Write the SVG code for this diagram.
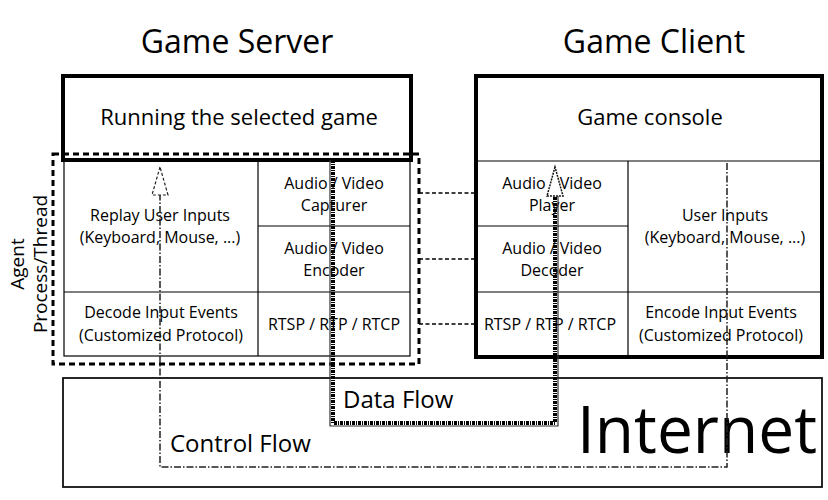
<svg xmlns="http://www.w3.org/2000/svg" width="828" height="500" viewBox="0 0 828 500">
<style>
text{font-family:"Open Sans","Noto Sans","DejaVu Sans",sans-serif;fill:#000;}
.title{font-size:32px;text-anchor:middle;}
.big{font-size:22px;text-anchor:middle;}
.cell{font-size:16px;text-anchor:middle;}
.thick{fill:none;stroke:#000;stroke-width:4;}
.thin{fill:none;stroke:#000;stroke-width:1.2;}
.agent{fill:none;stroke:#000;stroke-width:3;stroke-dasharray:6 4;}
.conn{fill:none;stroke:#000;stroke-width:1.6;stroke-dasharray:4 2.5;}
.data{fill:none;stroke:#000;stroke-width:4;stroke-dasharray:3 1 1 1;}
.data2{fill:none;stroke:#333;stroke-width:1.2;}
.ctrl{fill:none;stroke:#222;stroke-width:1.5;stroke-dasharray:7 2 1.5 2;}
.head{fill:#fff;stroke:#222;stroke-width:1.2;stroke-dasharray:3 2;}
</style>
<rect x="0" y="0" width="828" height="500" fill="#fff"/>

<g id="internet">
<rect x="63" y="378" width="759" height="109" fill="#fff" stroke="#111" stroke-width="1.8"/>
<text x="817" y="453" font-size="66" text-anchor="end" textLength="240" lengthAdjust="spacingAndGlyphs">Internet</text>
</g>

<g id="server">
<text class="title" x="237" y="53">Game Server</text>
<rect class="thick" x="63" y="76" width="348" height="84"/>
<text class="big" x="239" y="125">Running the selected game</text>
</g>

<g id="server-table">
<rect class="thin" x="64" y="160" width="346" height="196" fill="#fff"/>
<line class="thin" x1="258" y1="160" x2="258" y2="356"/>
<line class="thin" x1="258" y1="226" x2="410" y2="226"/>
<line class="thin" x1="64" y1="292" x2="410" y2="292"/>
<g id="replay"><text class="cell" x="160" y="221">Replay User Inputs</text><text class="cell" x="160" y="243">(Keyboard, Mouse, ...)</text></g>
<g id="capturer"><text class="cell" x="334" y="189">Audio / Video</text><text class="cell" x="334" y="211">Capturer</text></g>
<g id="encoder"><text class="cell" x="334" y="254">Audio / Video</text><text class="cell" x="334" y="276">Encoder</text></g>
<g id="decode-input"><text class="cell" x="161" y="318">Decode Input Events</text><text class="cell" x="161" y="341">(Customized Protocol)</text></g>
<g id="server-rtsp"><text class="cell" x="334" y="330">RTSP / RTP / RTCP</text></g>
</g>

<g id="agent">
<rect class="agent" x="53" y="154" width="366" height="210"/>
<text font-size="19" text-anchor="middle" transform="translate(24,264) rotate(-90)">Agent</text>
<text font-size="19" text-anchor="middle" transform="translate(47,264) rotate(-90)">Process/Thread</text>
</g>

<g id="client">
<text class="title" x="654" y="53">Game Client</text>
<rect class="thick" x="476" y="76" width="346" height="281" fill="#fff"/>
<text class="big" x="650" y="125">Game console</text>
<line class="thin" x1="476" y1="161" x2="822" y2="161"/>
<line class="thin" x1="628" y1="161" x2="628" y2="357"/>
<line class="thin" x1="476" y1="226" x2="628" y2="226"/>
<line class="thin" x1="476" y1="292" x2="822" y2="292"/>
<g id="player"><text class="cell" x="552" y="189">Audio / Video</text><text class="cell" x="552" y="211">Player</text></g>
<g id="decoder"><text class="cell" x="552" y="254">Audio / Video</text><text class="cell" x="552" y="276">Decoder</text></g>
<g id="client-rtsp"><text class="cell" x="550" y="330">RTSP / RTP / RTCP</text></g>
<g id="user-inputs"><text class="cell" x="725" y="221">User Inputs</text><text class="cell" x="725" y="243">(Keyboard, Mouse, ...)</text></g>
<g id="encode-input"><text class="cell" x="721" y="318">Encode Input Events</text><text class="cell" x="721" y="341">(Customized Protocol)</text></g>
</g>

<g id="connectors">
<line class="conn" x1="419" y1="193" x2="475" y2="193"/>
<line class="conn" x1="419" y1="259" x2="475" y2="259"/>
<line class="conn" x1="419" y1="324" x2="475" y2="324"/>
<polyline class="data" points="333,160 333,423 555,423 555,190"/>
<polyline class="data2" points="330,160 330,426 558,426 558,190"/>
<polygon points="555,167 547,196 563,196" fill="#fff" stroke="#111" stroke-width="1.5" stroke-dasharray="2 1"/>
<polyline class="ctrl" points="727,163 727,467 160,467 160,170"/>
<polygon class="head" points="160,167 152,195 168,195"/>
</g>

<g id="labels">
<text x="343" y="408" font-size="24">Data Flow</text>
<text x="170" y="452" font-size="24">Control Flow</text>
</g>
</svg>
